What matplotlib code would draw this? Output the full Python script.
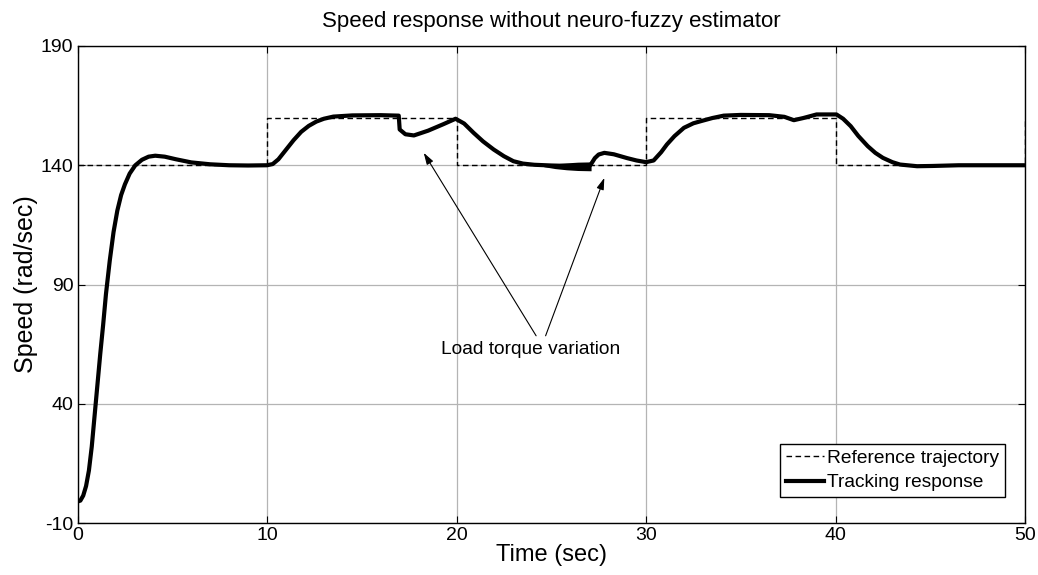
import numpy as np
import matplotlib
matplotlib.use("Agg")
import matplotlib.pyplot as plt

plt.rcParams['font.family'] = ['Liberation Sans', 'DejaVu Sans']
plt.rcParams['axes.unicode_minus'] = False

# reference speed (step changes every 10 s)
ref_t = [0, 10, 20, 30, 40, 50]
ref_v = [140, 160, 140, 160, 140, 160]

# tracking response
trk_t = [0, 0.15, 0.3, 0.45, 0.6, 0.75, 0.9, 1.05, 1.2, 1.35,
         1.5, 1.7, 1.9, 2.1, 2.3, 2.5, 2.75, 3.05, 3.4, 3.75,
         4.1, 4.6, 5.2, 6.0, 7.0, 8.0, 9.0, 10.0, 10.3, 10.6,
         11.0, 11.4, 11.8, 12.2, 12.6, 13.0, 13.5, 14.5, 16.0, 16.95,
         17.0, 17.3, 17.75, 18.5, 19.3, 19.95, 20.4, 20.9, 21.4, 21.96,
         22.5, 23.0, 23.5, 24.1, 25.0, 26.0, 27.0, 27.1, 27.3, 27.5,
         27.8, 28.3, 29.0, 29.5, 30.0, 30.4, 30.8, 31.1, 31.5, 32.0,
         32.5, 32.9, 33.5, 34.1, 35.0, 36.5, 37.3, 37.8, 38.3, 39.0,
         40.05, 40.4, 40.8, 41.2, 41.7, 42.1, 42.5, 43.0, 43.4, 44.3,
         45.1, 46.5, 48.0, 50.0]
trk_v = [-1, -0.6, 1.5, 5.5, 12, 22, 35, 48, 61, 73,
         86, 100, 112, 121, 127.5, 132, 136.5, 140, 142.3, 143.6,
         144, 143.6, 142.5, 141.2, 140.4, 140, 139.9, 140, 140.5, 142.5,
         146.5, 150.5, 154.0, 156.5, 158.3, 159.5, 160.4, 160.9, 161, 160.8,
         155, 153, 152.5, 154.5, 157.2, 159.5, 157.5, 153.6, 150, 146.6,
         143.8, 141.7, 140.7, 140.2, 139.9, 139.7, 139.5, 140.5, 143, 144.5,
         145.2, 144.6, 143, 142, 141.3, 142, 145.5, 148.7, 152.2, 155.7,
         157.6, 158.5, 159.8, 160.8, 161.1, 161, 160.3, 158.9, 159.8, 161.3,
         161.3, 159.5, 156.4, 152.3, 148, 145.2, 143.1, 141.3, 140.3, 139.6,
         139.7, 140, 140, 140]

# chattering band around 25-27 s
band_t = [24.6, 25.2, 25.8, 26.4, 27.0, 27.1]
band_lo = [139.4, 138.6, 138.1, 137.8, 137.7, 137.7]
band_hi = [140.0, 140.6, 141.0, 141.3, 141.4, 141.4]

fig = plt.figure(figsize=(10.38, 5.75), dpi=100)
ax = fig.add_axes([0.0747, 0.0904, 0.9128, 0.8296])

ax.plot(ref_t, ref_v, 'k--', lw=1.0, drawstyle='steps-post', dashes=(4, 2.5),
        label='Reference trajectory')
ax.plot(trk_t, trk_v, 'k-', lw=3.0, solid_joinstyle='round',
        label='Tracking response')
ax.fill_between(band_t, band_lo, band_hi, color='k', lw=0)

ax.set_xlim(0, 50)
ax.set_ylim(-10, 190)
ax.set_xticks(range(0, 51, 10))
ax.set_yticks([-10, 40, 90, 140, 190])
ax.grid(True, color='#b4b4b4', lw=0.9, ls='-')
ax.set_axisbelow(True)
ax.tick_params(direction='in', top=True, right=True, length=5,
               labelsize=14, pad=3)
for s in ax.spines.values():
    s.set_linewidth(1.0)

ax.set_title('Speed response without neuro-fuzzy estimator', fontsize=16, pad=14)
ax.set_xlabel('Time (sec)', fontsize=17, labelpad=0)
ax.set_ylabel('Speed (rad/sec)', fontsize=18, labelpad=2)

# annotation with two arrows
ax.text(23.9, 62.7, 'Load torque variation', fontsize=13.8,
        ha='center', va='center')
aprops = dict(arrowstyle='-|>,head_length=0.7,head_width=0.22',
              color='k', lw=0.8, shrinkA=0, shrinkB=0)
ax.annotate('', xy=(18.27, 145.2), xytext=(24.2, 68.5), arrowprops=aprops)
ax.annotate('', xy=(27.8, 134.7), xytext=(24.7, 68.5), arrowprops=aprops)

leg = ax.legend(loc='lower right', bbox_to_anchor=(0.9786, 0.0545),
                fontsize=13.8, frameon=True, fancybox=False,
                edgecolor='k', framealpha=1, handlelength=2.0,
                handletextpad=0.15, borderpad=0.3, labelspacing=0.35,
                borderaxespad=0)
leg.get_frame().set_linewidth(1.0)

fig.savefig('out.png', dpi=100)
